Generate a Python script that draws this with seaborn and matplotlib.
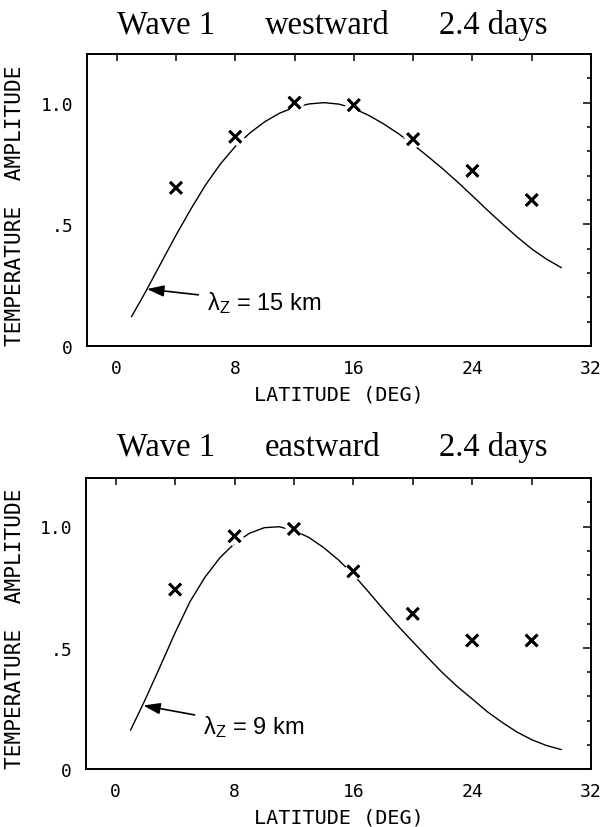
import matplotlib
matplotlib.use("Agg")
import matplotlib.pyplot as plt
import matplotlib.patheffects as pe
from matplotlib.ticker import FixedLocator, FixedFormatter, MultipleLocator
import pandas as pd
import seaborn as sns

# Observed temperature amplitudes (normalised), every 4 degrees of latitude
obs_lat = [4, 8, 12, 16, 20, 24, 28]
west_obs = [0.65, 0.86, 1.00, 0.99, 0.85, 0.72, 0.60]
east_obs = [0.74, 0.96, 0.99, 0.815, 0.64, 0.53, 0.53]

# Model amplitude curves, 1 to 30 degrees latitude
model_lat = list(range(1, 31))
west_model = [0.12, 0.228, 0.342, 0.455, 0.562, 0.662, 0.748, 0.82, 0.876, 0.922,
              0.957, 0.981, 0.995, 1.0, 0.994, 0.976, 0.948, 0.913, 0.873, 0.828,
              0.779, 0.728, 0.674, 0.617, 0.559, 0.503, 0.449, 0.399, 0.357, 0.322]
east_model = [0.16, 0.288, 0.424, 0.562, 0.69, 0.79, 0.87, 0.93, 0.972, 0.995,
              0.999, 0.984, 0.955, 0.913, 0.862, 0.802, 0.732, 0.66, 0.59, 0.525,
              0.46, 0.397, 0.34, 0.289, 0.237, 0.193, 0.153, 0.121, 0.097, 0.08]

xticks = [0, 8, 16, 24, 32]
xtick_labels = ["0", "8", "16", "24", "32"]
yticks = [0.0, 0.5, 1.0]
ytick_labels = ["0", ".5", "1.0"]

wave_label = "Wave 1"
period_label = "2.4 days"
directions = ["westward", "eastward"]
wavelengths = ["15 km", "9 km"]

sns.set_theme(style="white")
plt.rcParams["font.family"] = ["DejaVu Sans"]
plt.rcParams["mathtext.fontset"] = "custom"
plt.rcParams["mathtext.rm"] = "Liberation Sans"
plt.rcParams["mathtext.it"] = "Liberation Sans:italic"

fig = plt.figure(figsize=(6.02, 8.28), dpi=100)
W, H = 602.0, 828.0

# axes boxes in pixel units: left, top, right, bottom
boxes = [(87, 55, 591, 347), (86, 479, 591, 770)]
title_baselines = [34, 456]
# annotation layout: text anchor (data), arrow tip (data)
notes = [((6.1, 0.18), (2.04, 0.234)), ((5.9, 0.178), (1.85, 0.262))]

mono = "DejaVu Sans Mono"

for i, (model, obs) in enumerate([(west_model, west_obs), (east_model, east_obs)]):
    l, t, r, b = boxes[i]
    ax = fig.add_axes([l / W, 1 - b / H, (r - l) / W, (b - t) / H])

    curve = pd.DataFrame({"lat": model_lat, "amp": model})
    points = pd.DataFrame({"lat": obs_lat, "amp": obs})

    sns.lineplot(data=curve, x="lat", y="amp", ax=ax, color="black",
                 linewidth=1.0, zorder=2)
    sns.scatterplot(data=points, x="lat", y="amp", ax=ax, marker="x",
                    color="black", s=72, linewidth=2.0, zorder=3)
    coll = ax.collections[-1]
    coll.set_path_effects([pe.withStroke(linewidth=8, foreground="white"),
                           pe.Normal()])

    ax.set_xlim(-2, 32)
    ax.set_ylim(0, 1.2)

    ax.xaxis.set_major_locator(FixedLocator(xticks))
    ax.xaxis.set_major_formatter(FixedFormatter(xtick_labels))
    ax.xaxis.set_minor_locator(MultipleLocator(4))
    ax.yaxis.set_major_locator(FixedLocator(yticks))
    ax.yaxis.set_major_formatter(FixedFormatter(ytick_labels))
    ax.yaxis.set_minor_locator(MultipleLocator(0.1))

    ax.tick_params(axis="both", which="both", direction="in", top=True,
                   right=True, color="black", width=1.1)
    ax.tick_params(axis="x", which="both", length=5, pad=9.5)
    ax.tick_params(axis="y", which="major", length=6, pad=10)
    ax.tick_params(axis="y", which="minor", length=3)
    for lab in ax.get_xticklabels() + ax.get_yticklabels():
        lab.set_fontfamily(mono)
        lab.set_fontsize(13)
        lab.set_color("black")

    for sp in ax.spines.values():
        sp.set_visible(True)
        sp.set_color("black")
        sp.set_linewidth(1.4)

    ax.set_xlabel("LATITUDE (DEG)", fontfamily=mono, fontsize=14.5,
                  color="black", va="center")
    ax.xaxis.set_label_coords(0.5, -48.0 / (b - t))
    ax.set_ylabel("TEMPERATURE  AMPLITUDE", fontfamily=mono, fontsize=15.2,
                  color="black", va="center")
    ax.yaxis.set_label_coords((15.0 - l) / (r - l), 0.485)

    (tx, ty), (px, py) = notes[i]
    ax.annotate("λ" + r"$_{\rm Z}$ = " + wavelengths[i], xy=(px, py),
                xytext=(tx, ty), textcoords="data", ha="left", va="center",
                fontsize=17, fontfamily="Liberation Sans", color="black",
                arrowprops=dict(arrowstyle="-|>,head_length=0.6,head_width=0.2",
                                color="black", lw=1.2, shrinkA=4, shrinkB=0))

    # three-part serif heading above each panel
    yb = 1 - title_baselines[i] / H
    for word, xp in zip([wave_label, directions[i], period_label], [117, 265, 439]):
        fig.text(xp / W, yb, word, fontfamily="Liberation Serif", fontsize=23.5,
                 color="black", ha="left", va="baseline")

fig.savefig("out.png", dpi=100, facecolor="white")
